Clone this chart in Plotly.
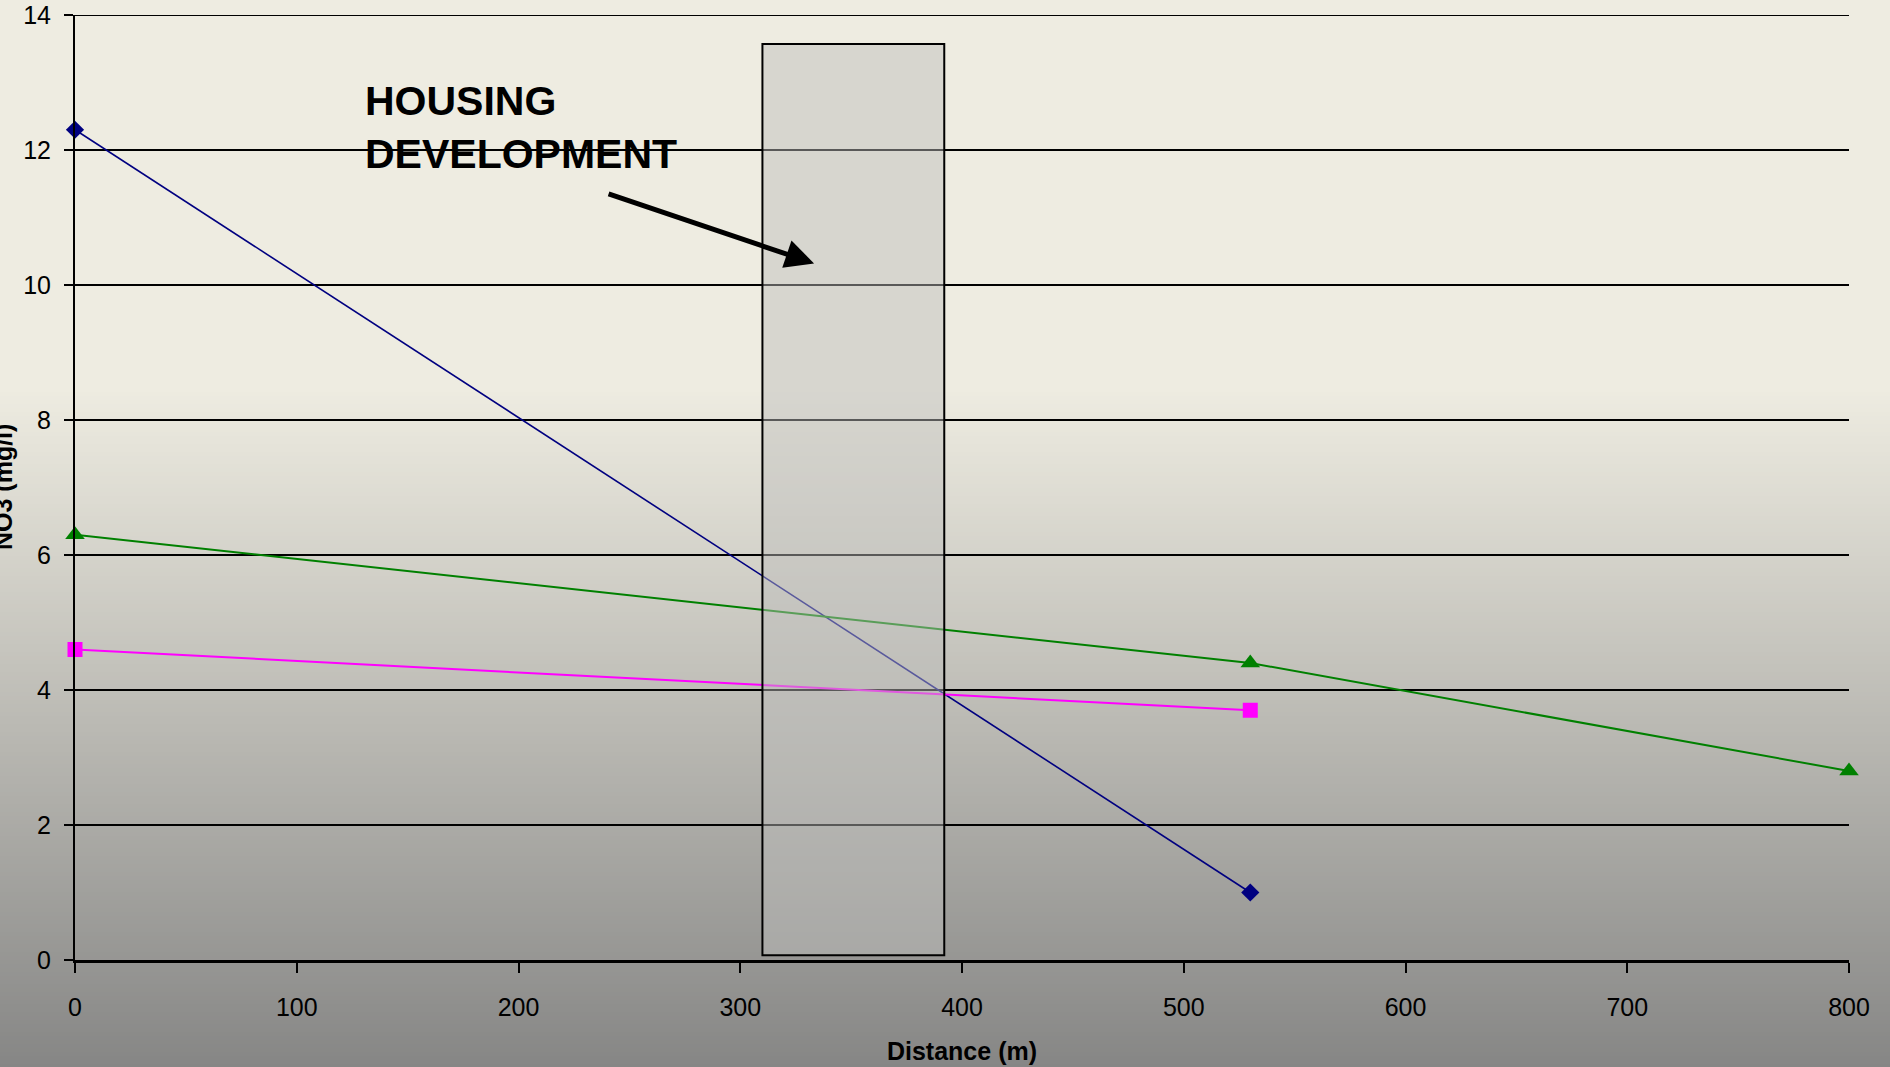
import plotly.graph_objects as go

# ---- data ----
x_blue = [0, 530]
y_blue = [12.3, 1.0]
x_magenta = [0, 530]
y_magenta = [4.6, 3.7]
x_green = [0, 530, 800]
y_green = [6.3, 4.4, 2.8]

housing_x = [310, 392]
housing_y = [0.07, 13.57]
housing_label = "HOUSING<br>DEVELOPMENT"

x_ticks = [0, 100, 200, 300, 400, 500, 600, 700, 800]
y_ticks = [0, 2, 4, 6, 8, 10, 12, 14]

W, H = 1890, 1067
ML, MR, MT, MB = 75, 41, 15, 107
PH = H - MT - MB

FONT = "Liberation Sans, Arial, sans-serif"

fig = go.Figure()

fig.add_trace(go.Scatter(x=x_blue, y=y_blue, mode="lines+markers",
                         line=dict(color="#000080", width=1.6),
                         marker=dict(symbol="diamond", size=14, color="#000080"),
                         cliponaxis=False, showlegend=False))
fig.add_trace(go.Scatter(x=x_magenta, y=y_magenta, mode="lines+markers",
                         line=dict(color="#FF00FF", width=2),
                         marker=dict(symbol="square", size=15, color="#FF00FF"),
                         cliponaxis=False, showlegend=False))
fig.add_trace(go.Scatter(x=x_green, y=y_green, mode="lines+markers",
                         line=dict(color="#008000", width=2),
                         marker=dict(symbol="triangle-up", size=17, color="#008000"),
                         cliponaxis=False, showlegend=False))

shapes = []
# background gradient strips (figure-wide, in paper coords)
top_c = (238, 236, 225)
bot_c = (134, 134, 133)
g0, g1 = 388, H
step = 4
p = g0
while p < g1:
    t = (p + step / 2 - g0) / (g1 - g0)
    t = min(max(t, 0), 1)
    c = tuple(round(a + (b - a) * t) for a, b in zip(top_c, bot_c))
    y0 = (H - MB - (p + step + 0.6)) / PH
    y1 = (H - MB - p) / PH
    shapes.append(dict(type="rect", xref="paper", yref="paper",
                       x0=-ML / (W - ML - MR) - 0.01, x1=1 + MR / (W - ML - MR) + 0.01,
                       y0=y0, y1=y1, fillcolor="rgb(%d,%d,%d)" % c,
                       line=dict(width=0), layer="below"))
    p += step

# top gridline at the upper range edge
shapes.append(dict(type="line", xref="paper", yref="y", x0=0, x1=1,
                   y0=y_ticks[-1], y1=y_ticks[-1],
                   line=dict(color="black", width=2), layer="below"))

# housing development box
shapes.append(dict(type="rect", xref="x", yref="y",
                   x0=housing_x[0], x1=housing_x[1], y0=housing_y[0], y1=housing_y[1],
                   fillcolor="rgba(189,189,187,0.47)",
                   line=dict(color="black", width=2), layer="above"))

fig.update_layout(
    width=W, height=H,
    margin=dict(l=ML, r=MR, t=MT, b=MB, pad=0, autoexpand=False),
    paper_bgcolor="rgb(238,236,225)",
    plot_bgcolor="rgba(0,0,0,0)",
    shapes=shapes,
    font=dict(family=FONT, size=25, color="black"),
    showlegend=False,
)

fig.update_xaxes(range=[0, 800], tickvals=x_ticks, ticktext=[str(v) for v in x_ticks],
                 showgrid=False, zeroline=False, automargin=False,
                 showline=True, linecolor="black", linewidth=3,
                 ticks="outside", ticklen=10, tickwidth=2, tickcolor="black",
                 ticklabelstandoff=13,
                 tickfont=dict(family=FONT, size=25, color="black"),
                 title=dict(text="<b>Distance (m)</b>", standoff=23,
                            font=dict(family=FONT, size=25, color="black")))
fig.update_yaxes(range=[0, 14], tickvals=y_ticks, ticktext=[str(v) for v in y_ticks],
                 showgrid=True, gridcolor="black", gridwidth=2, zeroline=False,
                 automargin=False,
                 showline=True, linecolor="black", linewidth=2,
                 ticks="outside", ticklen=9, tickwidth=2, tickcolor="black",
                 ticklabelstandoff=8,
                 tickfont=dict(family=FONT, size=25, color="black"))

annotations = [
    dict(text="<b>NO3 (mg/l)</b>", xref="paper", yref="paper",
         x=(2.5 - ML) / (W - ML - MR), y=0.5, xanchor="center", yanchor="middle",
         textangle=-90, showarrow=False,
         font=dict(family=FONT, size=25, color="black")),
    dict(text="<b>" + housing_label + "</b>", xref="x", yref="y",
         x=130, y=12.34, xanchor="left", yanchor="middle", align="left",
         showarrow=False, font=dict(family=FONT, size=41, color="black")),
    dict(text="", xref="x", yref="y", x=333.3, y=10.32, ax=-207, ay=-70,
         showarrow=True, arrowhead=2, arrowwidth=5, arrowsize=1.15,
         arrowcolor="black", standoff=0),
]
fig.update_layout(annotations=annotations)

fig.write_html("out.html")
